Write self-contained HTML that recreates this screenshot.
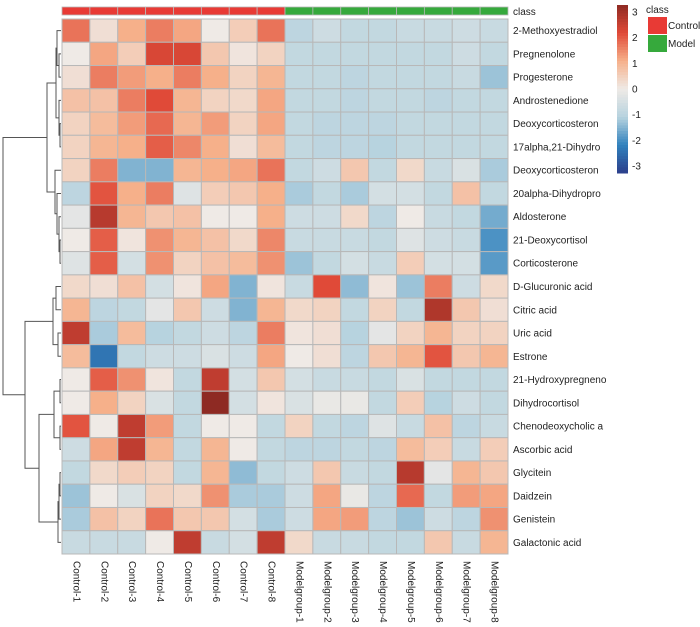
<!DOCTYPE html>
<html><head><meta charset="utf-8"><style>
html,body{margin:0;padding:0;background:#fff;}
svg{display:block;font-family:"Liberation Sans",sans-serif;}
</style></head><body>
<svg id="chart" width="700" height="627" viewBox="0 0 700 627" xmlns="http://www.w3.org/2000/svg"></svg>
<script>
const rowNames=["2-Methoxyestradiol","Pregnenolone","Progesterone","Androstenedione","Deoxycorticosteron","17alpha,21-Dihydro","Deoxycorticosteron","20alpha-Dihydropro","Aldosterone","21-Deoxycortisol","Corticosterone","D-Glucuronic acid","Citric acid","Uric acid","Estrone","21-Hydroxypregneno","Dihydrocortisol","Chenodeoxycholic a","Ascorbic acid","Glycitein","Daidzein","Genistein","Galactonic acid"];
const colNames=["Control-1","Control-2","Control-3","Control-4","Control-5","Control-6","Control-7","Control-8","Modelgroup-1","Modelgroup-2","Modelgroup-3","Modelgroup-4","Modelgroup-5","Modelgroup-6","Modelgroup-7","Modelgroup-8"];
const colClass=["Control","Control","Control","Control","Control","Control","Control","Control","Model","Model","Model","Model","Model","Model","Model","Model"];
const legendTicks=[3,2,1,0,-1,-2,-3];
const values=[
[1.6,0.2,1.0,1.5,1.1,0.0,0.5,1.6,-0.9,-0.6,-0.8,-0.8,-0.7,-0.7,-0.6,-0.7],
[0.0,1.1,0.5,2.1,2.1,0.6,0.1,0.4,-0.8,-0.8,-0.8,-0.8,-0.8,-0.8,-0.6,-0.8],
[0.2,1.5,1.2,1.0,1.5,1.0,0.4,0.9,-0.8,-0.8,-0.9,-0.8,-0.8,-0.8,-0.7,-1.2],
[0.7,0.7,1.5,2.0,0.9,0.4,0.3,1.1,-0.8,-0.8,-0.9,-0.8,-0.8,-0.9,-0.8,-0.8],
[0.4,0.8,1.2,1.7,0.9,1.2,0.4,1.1,-0.8,-0.9,-0.9,-0.9,-0.8,-0.8,-0.8,-0.8],
[0.4,0.9,1.0,1.8,1.4,1.0,0.2,0.8,-0.8,-0.9,-0.9,-1.0,-0.8,-0.8,-0.8,-0.8],
[0.4,1.5,-1.4,-1.4,0.9,1.0,1.1,1.6,-0.8,-0.6,0.6,-0.8,0.3,-0.7,-0.4,-1.1],
[-0.9,1.9,1.0,1.5,-0.3,0.5,0.6,1.0,-1.1,-0.8,-1.1,-0.5,-0.5,-0.8,0.7,-0.8],
[-0.2,2.5,0.9,0.6,0.7,0.0,0.0,1.0,-0.6,-0.6,0.3,-0.9,0.0,-0.7,-0.8,-1.5],
[0.0,1.8,0.1,1.3,0.9,0.7,0.3,1.4,-0.7,-0.7,-0.7,-0.8,-0.3,-0.6,-0.7,-1.8],
[-0.3,1.8,-0.5,1.3,0.4,0.7,0.8,1.3,-1.2,-0.8,-0.5,-0.7,0.5,-0.5,-0.5,-1.7],
[0.3,0.2,0.7,-0.5,0.1,1.1,-1.4,0.1,-0.7,2.0,-1.3,0.1,-1.2,1.5,-0.6,0.3],
[0.9,-0.9,-0.8,-0.2,0.6,-0.6,-1.4,0.9,0.3,0.4,-0.8,0.4,-0.8,2.6,0.6,0.2],
[2.4,-1.1,0.8,-1.0,-0.8,-0.6,-0.9,1.5,0.1,0.2,-1.0,-0.2,0.4,0.9,0.4,0.4],
[0.8,-2.2,-0.8,-0.6,-0.6,-0.4,-0.6,1.1,0.0,0.2,-0.9,0.6,0.9,1.9,0.6,0.9],
[0.0,1.8,1.3,0.1,-0.8,2.4,-0.5,0.6,-0.5,-0.7,-0.7,-0.8,-0.4,-0.8,-0.8,-0.8],
[0.0,1.0,0.4,-0.4,-0.8,3.0,-0.5,0.1,-0.4,-0.1,-0.1,-0.8,0.5,-1.0,-0.6,-0.8],
[1.9,0.0,2.4,1.2,-0.8,0.0,0.0,-0.8,0.4,-0.8,-0.9,-0.3,-0.7,0.7,-0.9,-0.7],
[-0.6,1.1,2.4,0.9,-0.8,0.9,0.0,-0.8,-0.9,-0.9,-0.8,-0.9,0.8,0.5,-0.7,0.5],
[-0.8,0.3,0.5,0.4,-0.8,0.9,-1.3,-0.8,-0.6,0.6,-0.7,-0.8,2.5,-0.2,0.9,0.6],
[-1.2,0.0,-0.4,0.4,0.3,1.3,-1.1,-1.1,-0.6,1.1,-0.1,-0.9,1.7,-0.8,1.2,1.1],
[-1.1,0.7,0.4,1.6,0.6,0.6,-0.5,-1.1,-0.6,1.1,1.2,-0.9,-1.2,-0.6,-0.9,1.3],
[-0.7,-0.7,-0.7,0.0,2.4,-0.7,-0.5,2.4,0.3,-0.7,-0.7,-0.8,-0.8,0.6,-0.7,0.9]
];
// dendrogram tree nodes: [left, right, mergeX]; leaves are row indices
const dA=[[0,[1,2,59],57],[3,[4,5,60],59],56];
const dB=[6,[7,[8,[9,10,60],59],57],55];
const dTop=[dA,dB,47];
const dC=[[11,12,56],[13,14,58],53];
const dD1=[[15,16,60],[17,18,60],54];
const dD2=[[[19,20,60],21,59],22,58];
const dD=[dD1,dD2,39];
const dBottom=[dC,dD,25];
const tree=[dTop,dBottom,3];

const NS="http://www.w3.org/2000/svg";
const svg=document.getElementById('chart');
const X0=62,Y0=19,CW=(508-62)/16,CH=(554-19)/23;
const stops=[[-3,[44,63,140]],[-2,[49,130,189]],[-1,[183,211,223]],[0,[239,234,230]],[1,[246,176,138]],[2,[224,74,56]],[3,[142,42,35]]];
function color(v){v=Math.max(-3,Math.min(3,v));for(let i=0;i<stops.length-1;i++){const a=stops[i],b=stops[i+1];if(v<=b[0]){const t=(v-a[0])/(b[0]-a[0]);const c=a[1].map((x,k)=>Math.round(x+(b[1][k]-x)*t));return 'rgb('+c[0]+','+c[1]+','+c[2]+')';}}return 'rgb(142,42,35)';}
function mk(tag,attrs,parent){const e=document.createElementNS(NS,tag);for(const k in attrs)e.setAttribute(k,attrs[k]);(parent||svg).appendChild(e);return e;}
const xPos=j=>X0+j*CW, yPos=i=>Y0+i*CH;
const classColor={Control:"#e83a35",Model:"#36a93c"};
// class bar
const cb=mk('g',{});


colClass.forEach((c,j)=>{const r=mk('rect',{x:xPos(j),y:7,width:CW,height:8,fill:classColor[c],stroke:'#b8b8b8','stroke-width':0.8},cb);

});
const ct=mk('text',{x:513,y:15,'font-size':10,fill:'#222'});ct.textContent='class';


// cells
const hg=mk('g',{});


values.forEach((row,i)=>row.forEach((v,j)=>{const r=mk('rect',{x:xPos(j),y:yPos(i),width:CW,height:CH,fill:color(v),stroke:'#b8b8b8','stroke-width':1},hg);

}));
// row labels
rowNames.forEach((n,i)=>{const t=mk('text',{x:513,y:yPos(i)+CH/2+3.5,'font-size':10,fill:'#222'});t.textContent=n;

});
// col labels
colNames.forEach((n,j)=>{const cx=xPos(j)+CW/2;const t=mk('text',{x:cx,y:561,'font-size':10,fill:'#222','text-anchor':'start','dominant-baseline':'central',transform:'rotate(90 '+cx+' 561)'});t.textContent=n;

});
// dendrogram
const dg=mk('g',{stroke:'#555','stroke-width':1,fill:'none'});


function draw(node){if(typeof node==='number')return {y:yPos(node)+CH/2,x:X0-1};
const a=draw(node[0]),b=draw(node[1]),x=node[2];
mk('path',{d:'M'+a.x+','+a.y+'H'+x+'V'+b.y+'H'+b.x},dg);return {y:(a.y+b.y)/2,x:x};}
draw(tree);
// color legend
const lg=mk('g',{});


const LY0=5,LY1=173;
const steps=60;for(let k=0;k<steps;k++){const v=3-6*(k+0.5)/steps;mk('rect',{x:617,y:LY0+(LY1-LY0)*k/steps,width:11,height:(LY1-LY0)/steps+0.5,fill:color(v)},lg);}
legendTicks.forEach(v=>{const y=LY0+7+(3-v)/6*(LY1-LY0-14);const t=mk('text',{x:632,y:y+3.5,'font-size':10,fill:'#222'},lg);t.textContent=String(v);

});
// class legend
const cl=mk('g',{});


const clt=mk('text',{x:646,y:13,'font-size':10,fill:'#222'},cl);clt.textContent='class';
[["Control",17],["Model",35]].forEach(([n,y])=>{const r=mk('rect',{x:648,y:y,width:19,height:17,fill:classColor[n]},cl);


const t=mk('text',{x:668,y:y+12,'font-size':10,fill:'#222'},cl);t.textContent=n;

});
</script>
</body></html>
